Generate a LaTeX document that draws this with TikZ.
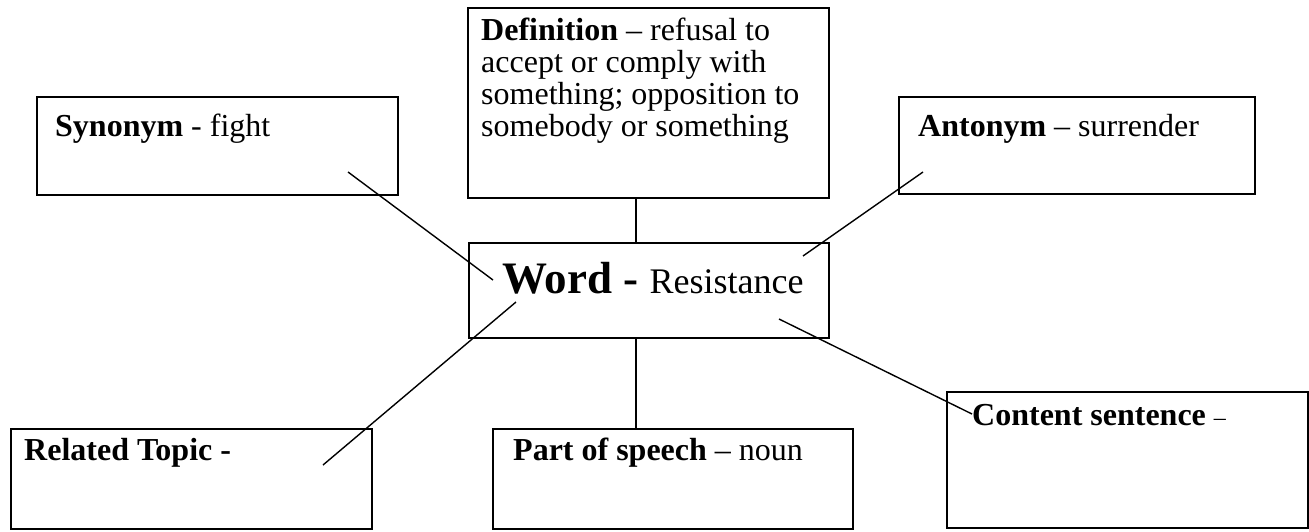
\documentclass[tikz,border=0pt]{standalone}
\usepackage{fontspec}
\setmainfont{Liberation Serif}
\begin{document}
\begin{tikzpicture}[x=1pt,y=-1pt,
  box/.style={draw=black,line width=1.6pt,fill=white,inner sep=0pt,anchor=north west},
  txt/.style={inner sep=0pt,anchor=base west,font=\fontsize{32}{32}\selectfont},
  conn/.style={draw=black,line width=1.4pt}]
\useasboundingbox (0,0) rectangle (1309,531);
\coordinate (vx) at (636,0);
% boxes
\node[box,minimum width=361pt,minimum height=98pt] (syn) at (36,96) {};
\node[box,minimum width=361pt,minimum height=190pt] (def) at (467,7) {};
\node[box,minimum width=356pt,minimum height=97pt] (ant) at (898,96) {};
\node[box,minimum width=360pt,minimum height=95pt] (word) at (468,242) {};
\node[box,minimum width=361pt,minimum height=100pt] (rel) at (10,428) {};
\node[box,minimum width=360pt,minimum height=100pt] (pos) at (492,428) {};
\node[box,minimum width=361pt,minimum height=136pt] (con) at (946,391) {};
% texts
\node[txt] (synT) at (55,136) {\textbf{Synonym} - fight};
\node[inner sep=0pt,anchor=north west,align=left,font=\fontsize{32}{32}\selectfont] (defT) at (481,18)
  {\textbf{Definition} – refusal to\\accept or comply with\\something; opposition to\\somebody or something};
\node[txt] (antT) at (918,136) {\textbf{Antonym} – surrender};
\node[inner sep=0pt,anchor=base west] (wordT) at (502,293)
  {\fontsize{45}{45}\selectfont\textbf{Word -} \fontsize{36}{36}\selectfont Resistance};
\node[txt] (relT) at (24,460) {\textbf{Related Topic -}};
\node[txt] (posT) at (513,460) {\textbf{Part of speech} – noun};
\node[txt] (conT) at (972,425) {\textbf{Content sentence} {\fontsize{24}{24}\selectfont –}};
% connector end points
\coordinate (synP) at (348,172);
\coordinate (wordSyn) at (493,280);
\coordinate (antP) at (923,172);
\coordinate (wordAnt) at (803,256);
\coordinate (relP) at (323,465);
\coordinate (wordRel) at (516,302);
\coordinate (conP) at (972,414);
\coordinate (wordCon) at (779,319);
% connectors
\draw[conn] (synP) -- (wordSyn);
\draw[conn] (antP) -- (wordAnt);
\draw[conn] (relP) -- (wordRel);
\draw[conn] (conP) -- (wordCon);
\draw[conn] (vx |- def.south) -- (vx |- word.north);
\draw[conn] (vx |- word.south) -- (vx |- pos.north);
\end{tikzpicture}
\end{document}
